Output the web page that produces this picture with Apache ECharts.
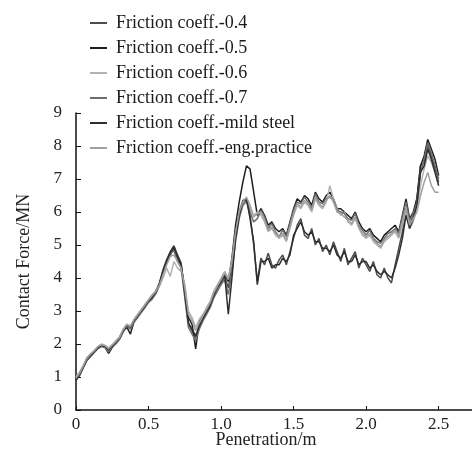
<!DOCTYPE html>
<html>
<head>
<meta charset="utf-8">
<script src="https://cdn.jsdelivr.net/npm/echarts@6/dist/echarts.min.js"></script>
<style>
  html, body { margin: 0; padding: 0; background: #fff; }
  #chart { width: 472px; height: 450px; }
</style>
</head>
<body>
<div id="chart"></div>
<script>
const penetration = [
  0, 0.025, 0.05, 0.075, 0.1, 0.125, 0.15, 0.175, 0.2, 0.225,
  0.25, 0.275, 0.3, 0.325, 0.35, 0.375, 0.4, 0.425, 0.45, 0.475,
  0.5, 0.525, 0.55, 0.575, 0.6, 0.625, 0.65, 0.675, 0.7, 0.725,
  0.75, 0.775, 0.8, 0.825, 0.85, 0.875, 0.9, 0.925, 0.95, 0.975,
  1.0, 1.025, 1.05, 1.075, 1.1, 1.125, 1.15, 1.175, 1.2, 1.225,
  1.25, 1.275, 1.3, 1.325, 1.35, 1.375, 1.4, 1.425, 1.45, 1.475,
  1.5, 1.525, 1.55, 1.575, 1.6, 1.625, 1.65, 1.675, 1.7, 1.725,
  1.75, 1.775, 1.8, 1.825, 1.85, 1.875, 1.9, 1.925, 1.95, 1.975,
  2.0, 2.025, 2.05, 2.075, 2.1, 2.125, 2.15, 2.175, 2.2, 2.225,
  2.25, 2.275, 2.3, 2.325, 2.35, 2.375, 2.4, 2.425, 2.45, 2.475, 2.5
]

const force04 = [
  0.95, 1.1, 1.3, 1.55, 1.65, 1.78, 1.9, 1.97, 1.93, 1.8,
  1.95, 2.05, 2.2, 2.42, 2.58, 2.5, 2.72, 2.88, 3.02, 3.18,
  3.32, 3.45, 3.6, 3.85, 4.25, 4.55, 4.8, 4.98, 4.7, 4.45,
  3.5, 2.6, 2.4, 2.2, 2.5, 2.75, 2.95, 3.15, 3.45, 3.7,
  3.85, 4.05, 3.7, 4.4, 5.3, 6.0, 6.35, 6.4, 5.9, 5.0,
  3.9, 4.6, 4.4, 4.75, 4.4, 4.3, 4.55, 4.7, 4.4, 4.8,
  5.2, 5.6, 5.8, 5.3, 5.2, 5.5, 5.0, 5.2, 4.8, 5.0,
  4.7, 5.1, 4.8, 4.5, 4.9, 4.4, 4.6, 4.8, 4.3, 4.6,
  4.4, 4.2, 4.5, 4.1, 4.0, 4.3, 4.0, 3.85, 4.4, 4.9,
  5.4, 6.1, 5.6, 5.9, 6.4, 7.4, 7.5, 8.0, 7.7, 7.3, 6.9
]

const force05 = [
  0.9, 1.05, 1.28, 1.5, 1.62, 1.74, 1.86, 1.93, 1.9, 1.72,
  1.9, 2.02, 2.15, 2.38, 2.52, 2.3, 2.68, 2.82, 2.98, 3.12,
  3.28, 3.38, 3.55, 3.8, 4.15, 4.45, 4.7, 4.9, 4.55, 4.35,
  3.7, 2.8, 2.6, 1.85, 2.7, 2.85, 3.05, 3.25, 3.55, 3.75,
  3.95, 4.1, 3.9, 4.6, 5.6, 6.3, 6.9, 7.4, 7.3, 6.6,
  5.9, 6.1, 5.9, 5.6, 5.7, 5.5, 5.4, 5.5, 5.3, 5.7,
  6.1, 6.4, 6.3, 6.5, 6.4, 6.2, 6.6, 6.4, 6.3, 6.5,
  6.6, 6.4, 6.1, 6.1, 6.0, 5.9, 5.8, 6.0, 5.7, 5.5,
  5.4, 5.5, 5.3, 5.2, 5.1, 5.3, 5.4, 5.5, 5.6, 5.4,
  5.9, 6.4, 5.8, 6.0, 6.4, 7.4, 7.7, 8.2, 7.9, 7.6, 7.1
]

const force06 = [
  1.0, 1.15, 1.35, 1.58, 1.7, 1.8, 1.92, 2.0, 1.96, 1.88,
  1.98, 2.1, 2.22, 2.45, 2.6, 2.55, 2.75, 2.9, 3.05, 3.2,
  3.35, 3.5, 3.6, 3.75, 4.0, 4.3, 4.05, 4.5, 4.3, 4.2,
  3.8, 3.0, 2.8, 2.5, 2.75, 2.9, 3.1, 3.3, 3.6, 3.8,
  4.0, 4.2, 4.0, 4.5, 5.3, 5.9, 6.2, 6.3, 6.1, 5.9,
  6.0, 5.9, 5.7, 5.4, 5.5, 5.3, 5.2, 5.3, 5.1, 5.5,
  5.9, 6.2, 6.1, 6.3, 6.2, 6.0, 6.4, 6.2, 6.1, 6.3,
  6.8, 6.4, 6.1, 5.9, 6.0, 5.7, 5.6, 5.8, 5.5, 5.3,
  5.2, 5.3, 5.1, 5.0, 4.9, 5.1, 5.2, 5.3, 5.4, 5.2,
  5.6, 6.0, 5.5, 5.7, 6.1, 6.8, 7.3, 7.7, 7.5, 7.2, 6.8
]

const force07 = [
  0.93, 1.08, 1.32, 1.52, 1.66, 1.76, 1.87, 1.94, 1.9, 1.76,
  1.92, 2.0, 2.14, 2.36, 2.54, 2.45, 2.66, 2.8, 2.95, 3.1,
  3.26, 3.36, 3.52, 3.78, 4.18, 4.48, 4.72, 4.85, 4.5, 4.3,
  3.4, 2.5, 2.3, 2.1, 2.45, 2.7, 2.9, 3.1, 3.4, 3.6,
  3.8, 3.95, 3.5, 4.2, 5.1, 5.8, 6.2, 6.35, 6.0, 5.7,
  5.8, 6.05, 5.85, 5.5, 5.65, 5.4, 5.25, 5.45, 5.25, 5.65,
  6.05, 6.3, 6.25, 6.45, 6.3, 6.1, 6.55, 6.3, 6.25, 6.4,
  6.45, 6.35, 6.05, 6.0, 5.95, 5.8, 5.75, 5.95, 5.6, 5.45,
  5.3, 5.45, 5.2, 5.1, 5.05, 5.2, 5.35, 5.4, 5.5, 5.35,
  5.85, 6.3, 5.75, 5.95, 6.3, 7.2, 7.6, 8.1, 7.8, 7.4, 7.0
]

const forceMild = [
  0.92, 1.1, 1.3, 1.56, 1.68, 1.77, 1.89, 1.96, 1.93, 1.83,
  1.94, 2.06, 2.18, 2.4, 2.56, 2.52, 2.7, 2.86, 3.0, 3.16,
  3.3, 3.42, 3.58, 3.82, 4.22, 4.52, 4.78, 4.95, 4.65, 4.4,
  3.55, 2.65, 2.45, 2.25, 2.55, 2.78, 2.98, 3.18, 3.48, 3.72,
  3.9, 4.1, 2.9, 4.0, 5.2, 5.9, 6.3, 6.4, 5.8, 5.1,
  3.8, 4.5, 4.5, 4.6, 4.3, 4.4, 4.4, 4.6, 4.5, 4.7,
  5.3, 5.5, 5.7, 5.4, 5.3, 5.4, 5.1, 5.1, 4.9, 4.9,
  4.8, 5.0, 4.7, 4.6, 4.8, 4.5, 4.5, 4.7, 4.4, 4.5,
  4.5, 4.3, 4.4, 4.2, 4.1, 4.2, 4.1, 4.0, 4.3, 4.7,
  5.2, 5.9, 5.5, 5.8, 6.2, 7.2, 7.4, 7.9, 7.6, 7.2, 6.8
]

const forceEng = [
  0.97, 1.12, 1.33, 1.57, 1.69, 1.79, 1.91, 1.98, 1.95, 1.86,
  1.97, 2.08, 2.2, 2.43, 2.59, 2.53, 2.73, 2.88, 3.03, 3.18,
  3.33, 3.47, 3.6, 3.78, 4.1, 4.4, 4.65, 4.7, 4.5, 4.3,
  3.7, 2.9, 2.7, 2.4, 2.65, 2.85, 3.05, 3.25, 3.55, 3.75,
  3.95, 4.15, 3.95, 4.5, 5.4, 6.0, 6.3, 6.45, 6.2, 5.85,
  5.95, 6.0, 5.75, 5.45, 5.55, 5.35, 5.25, 5.35, 5.15, 5.55,
  5.95, 6.25, 6.15, 6.35, 6.25, 6.05, 6.45, 6.25, 6.15, 6.35,
  6.5, 6.3, 6.0, 5.95, 5.85, 5.75, 5.65, 5.85, 5.55, 5.35,
  5.25, 5.35, 5.15, 5.05, 4.95, 5.15, 5.25, 5.35, 5.45, 5.25,
  5.7, 6.1, 5.6, 5.8, 6.0, 6.5, 6.9, 7.2, 6.8, 6.6, 6.6
]

const seriesNames = [
  'Friction coeff.-0.4',
  'Friction coeff.-0.5',
  'Friction coeff.-0.6',
  'Friction coeff.-0.7',
  'Friction coeff.-mild steel',
  'Friction coeff.-eng.practice'
]
const seriesData = [force04, force05, force06, force07, forceMild, forceEng]
const seriesColors = ['#4d4d4d', '#1e1e1e', '#b3b3b3', '#6e6e6e', '#2e2e2e', '#a0a0a0']

const font = 'Liberation Serif'

const chart = echarts.init(document.getElementById('chart'), null, { renderer: 'canvas' })
chart.setOption({
  animation: false,
  backgroundColor: '#fff',
  legend: {
    orient: 'vertical',
    left: 85,
    top: 9,
    icon: 'rect',
    itemWidth: 17,
    itemHeight: 2,
    itemGap: 7,
    data: seriesNames,
    textStyle: { fontFamily: font, fontSize: 18, color: '#1a1a1a', padding: [0, 0, 0, 4] }
  },
  grid: { left: 76, right: 0, top: 113, bottom: 40, outerBoundsMode: 'none' },
  xAxis: {
    type: 'value',
    min: 0,
    max: 2.73,
    interval: 0.5,
    name: 'Penetration/m',
    nameLocation: 'middle',
    nameGap: 21,
    nameMoveOverlap: false,
    nameTextStyle: { fontFamily: font, fontSize: 18, color: '#222', padding: [0, 16, 0, 0] },
    axisLine: { lineStyle: { color: '#111', width: 1.5 } },
    axisTick: { inside: true, length: 4, lineStyle: { color: '#111' } },
    axisLabel: {
      showMaxLabel: false,
      margin: 6,
      fontFamily: font,
      fontSize: 17,
      color: '#222',
      formatter: v => (v === 0 ? '0' : v.toFixed(1))
    },
    splitLine: { show: false }
  },
  yAxis: {
    type: 'value',
    min: 0,
    max: 9,
    interval: 1,
    name: 'Contact Force/MN',
    nameLocation: 'middle',
    nameGap: 43,
    nameTextStyle: { fontFamily: font, fontSize: 18, color: '#222' },
    axisLine: { show: true, lineStyle: { color: '#111', width: 1.5 } },
    axisTick: { show: true, inside: true, length: 5, lineStyle: { color: '#111' } },
    axisLabel: { margin: 14, fontFamily: font, fontSize: 17, color: '#222' },
    splitLine: { show: false }
  },
  series: seriesNames.map((name, i) => ({
    name,
    type: 'line',
    symbol: 'none',
    color: seriesColors[i],
    lineStyle: { width: 1.5, color: seriesColors[i] },
    data: penetration.map((x, j) => [x, seriesData[i][j]])
  }))
})
</script>
</body>
</html>
